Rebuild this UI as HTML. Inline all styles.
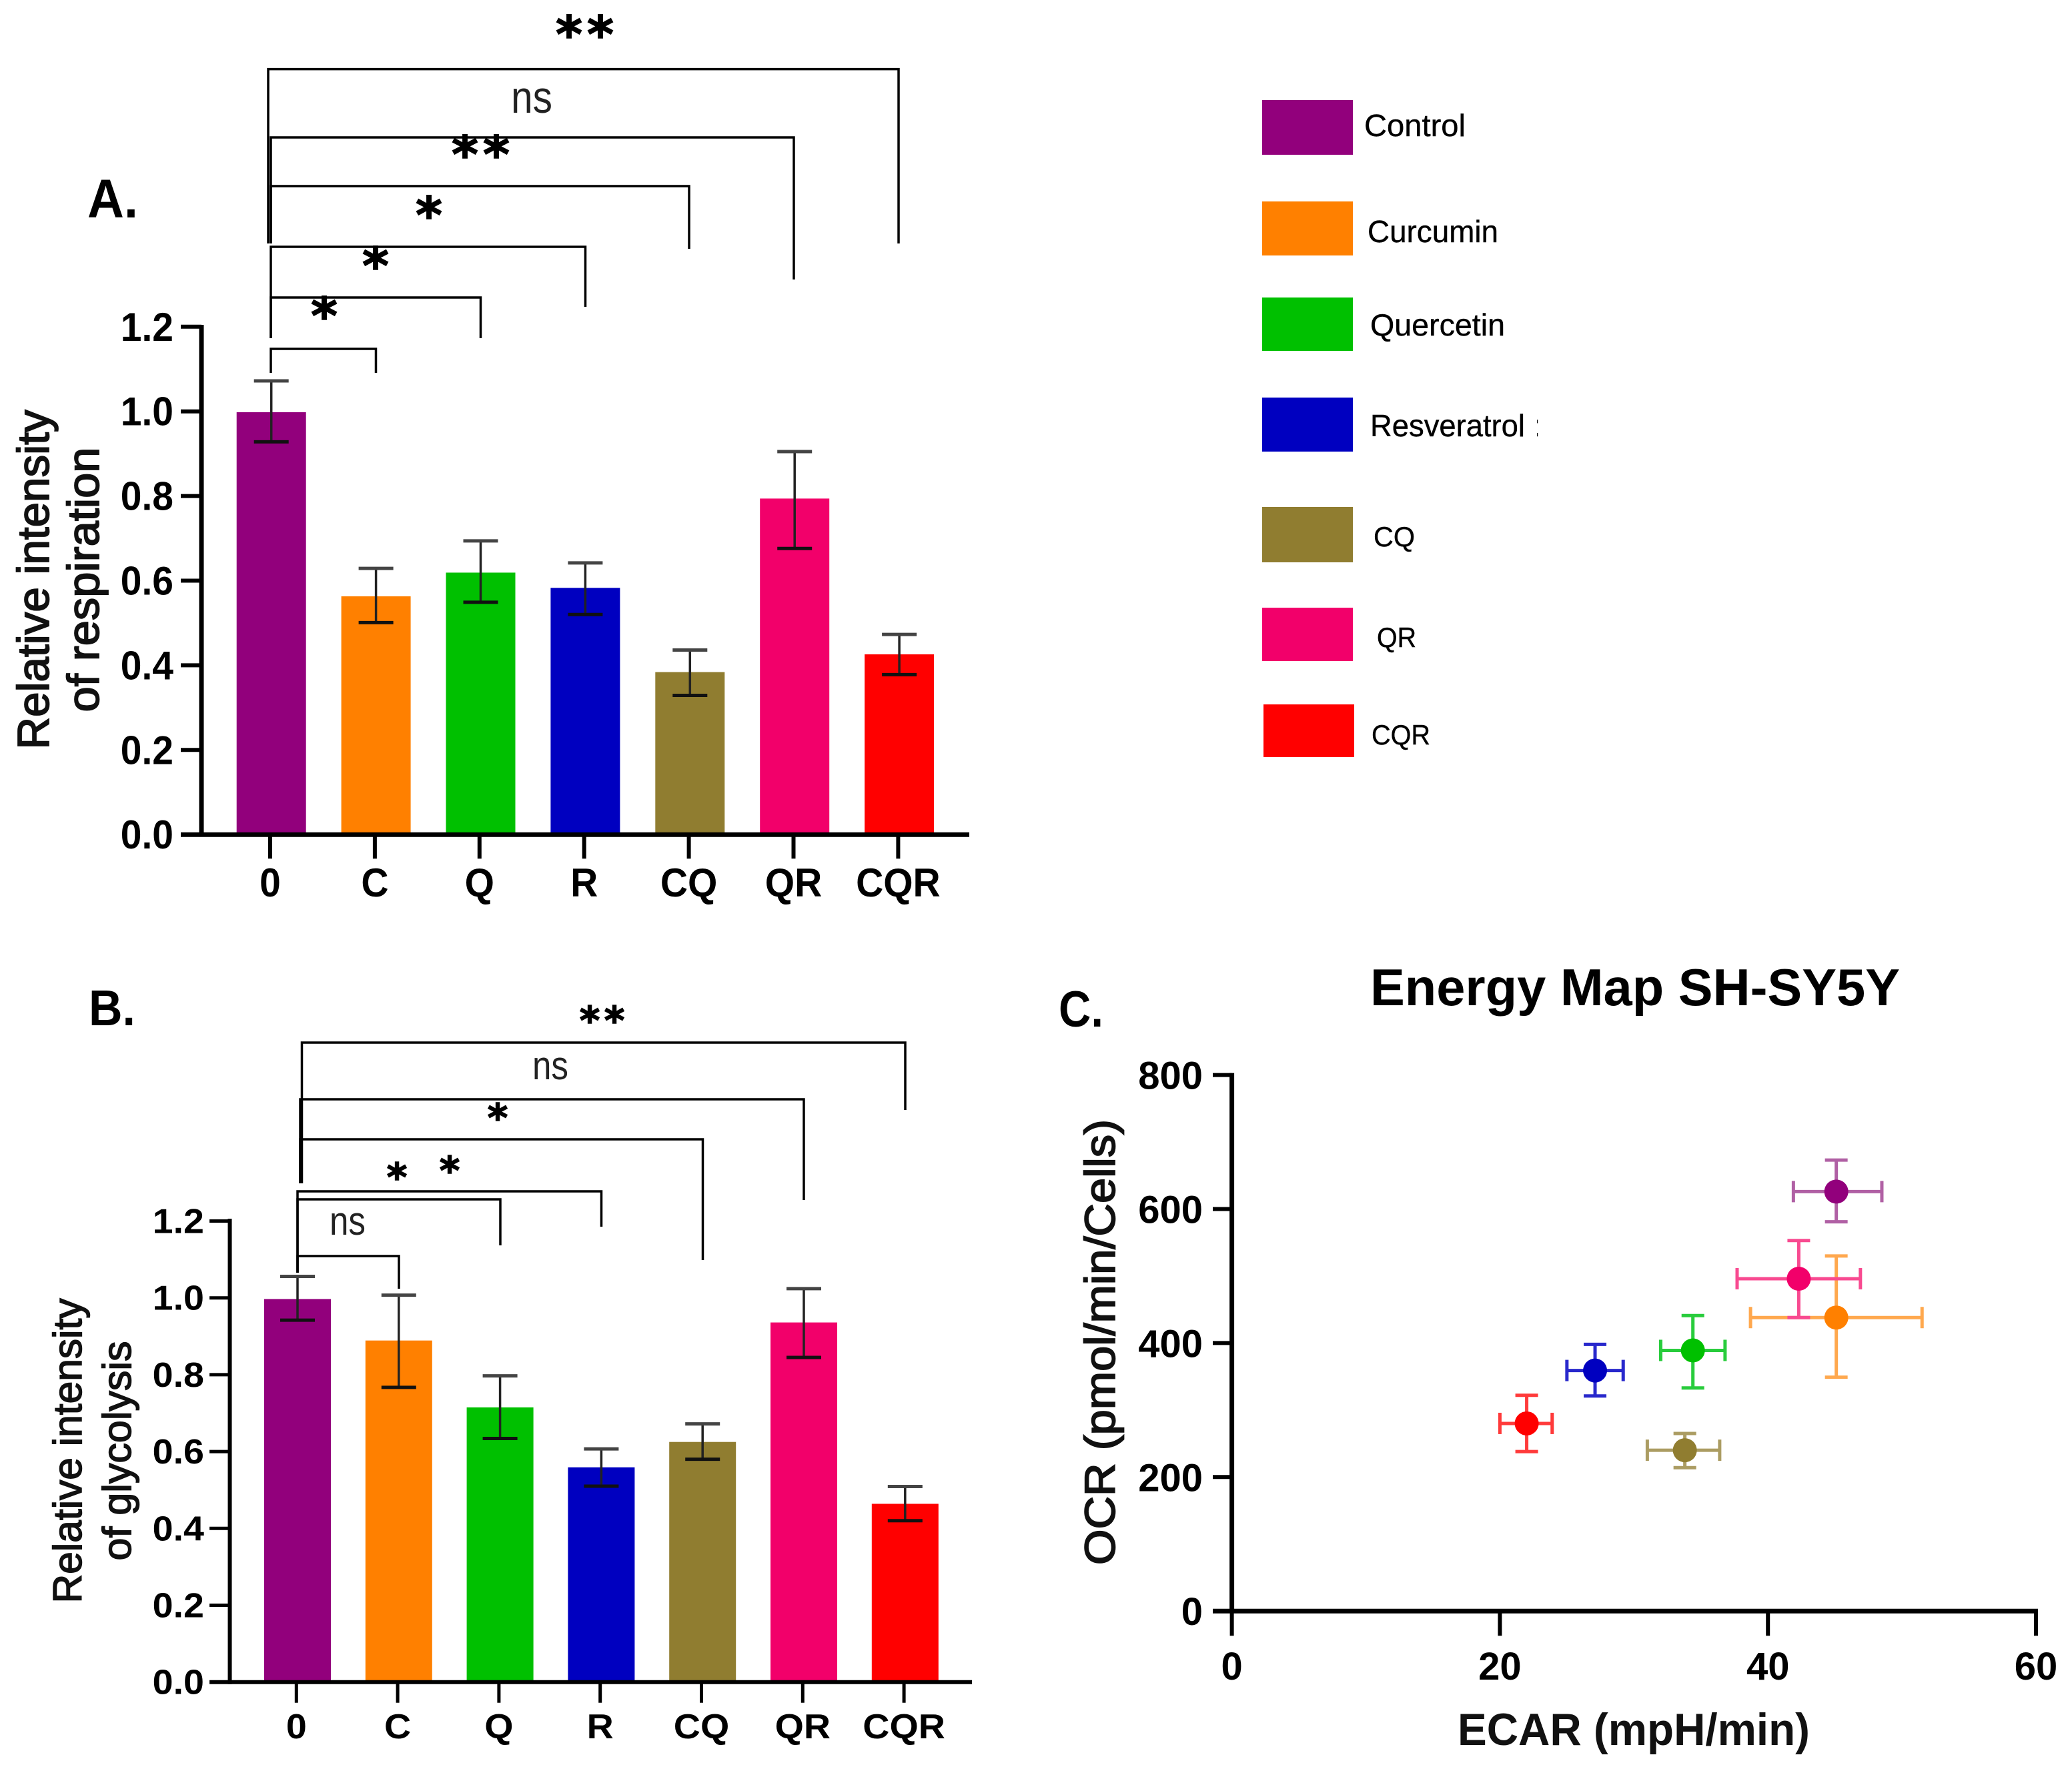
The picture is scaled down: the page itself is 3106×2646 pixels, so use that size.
<!DOCTYPE html>
<html lang="en">
<head>
<meta charset="utf-8">
<title>Respiration, glycolysis and energy map</title>
<style>
html,body{margin:0;padding:0;background:#fff;width:3106px;height:2646px;overflow:hidden}
svg{display:block;font-family:"Liberation Sans",Arial,sans-serif}
.br{fill:none;stroke:#000;stroke-width:3.5}
.lg{font-size:46px;fill:#000;stroke:#000;stroke-width:.4}
.lg2{font-size:42px;fill:#000;stroke:#000;stroke-width:.4}
.ns{font-size:68px;fill:#222;text-anchor:middle}
.ns2{font-size:60px;fill:#222;text-anchor:middle}
.st{font-family:"DejaVu Sans",sans-serif;font-weight:700;text-anchor:middle;fill:#000;stroke:#000;stroke-width:1.6}
.pl{font-weight:700;fill:#000}
</style>
</head>
<body>
<svg id="fig" xmlns="http://www.w3.org/2000/svg" width="3106" height="2646" viewBox="0 0 3106 2646">
<rect x="0" y="0" width="3106" height="2646" fill="#fff"/>

<text class="pl" x="131" y="326" font-size="82" textLength="76" lengthAdjust="spacingAndGlyphs">A.</text>
<text class="pl" x="133" y="1537" font-size="75" textLength="70" lengthAdjust="spacingAndGlyphs">B.</text>
<text class="pl" x="1587" y="1539" font-size="76" textLength="67" lengthAdjust="spacingAndGlyphs">C.</text>

<g>
<path class="br" d="M402 365V103.6H1347V365"/>
<path class="br" d="M406 365V206H1190V419"/>
<path class="br" d="M406 365V279H1033V373"/>
<path class="br" d="M406 507V370H877.5V460"/>
<path class="br" d="M406 507V446H720.5V507"/>
<path class="br" d="M406 559V523H563.5V559"/>
<text class="st" font-size="76" x="853" y="78">*</text>
<text class="st" font-size="76" x="900" y="78">*</text>
<text class="ns" x="797" y="169" textLength="62" lengthAdjust="spacingAndGlyphs">ns</text>
<text class="st" font-size="76" x="697" y="258">*</text>
<text class="st" font-size="76" x="744" y="258">*</text>
<text class="st" font-size="76" x="643" y="349">*</text>
<text class="st" font-size="76" x="563" y="425">*</text>
<text class="st" font-size="76" x="486" y="500">*</text>
</g>

<g>
<path class="br" d="M452.5 1774V1563H1357V1664"/>
<path class="br" d="M450 1774V1648H1205V1799"/>
<path class="br" d="M450 1774V1708H1053.5V1889"/>
<path class="br" d="M446 1908V1786H901.5V1839"/>
<path class="br" d="M446 1908V1798H750V1867"/>
<path class="br" d="M446 1908V1883H598V1932"/>
<text class="st" font-size="58" x="884" y="1550">*</text>
<text class="st" font-size="58" x="921" y="1550">*</text>
<text class="ns2" x="825" y="1618" textLength="54" lengthAdjust="spacingAndGlyphs">ns</text>
<text class="st" font-size="58" x="746" y="1696">*</text>
<text class="st" font-size="58" x="595" y="1785">*</text>
<text class="st" font-size="58" x="674" y="1775">*</text>
<text class="ns2" x="521" y="1851" textLength="54" lengthAdjust="spacingAndGlyphs">ns</text>
</g>

<g id="plotA"></g>
<g id="plotB"></g>
<g id="plotC"></g>

<g>
<g><rect x="1892" y="150" width="136" height="82" fill="#92007c"/><text class="lg" x="2045" y="204" textLength="152" lengthAdjust="spacingAndGlyphs">Control</text></g>
<g><rect x="1892" y="302" width="136" height="81" fill="#ff8000"/><text class="lg" x="2050" y="363" textLength="196" lengthAdjust="spacingAndGlyphs">Curcumin</text></g>
<g><rect x="1892" y="446" width="136" height="80" fill="#00c000"/><text class="lg" x="2054" y="503" textLength="202" lengthAdjust="spacingAndGlyphs">Quercetin</text></g>
<g><rect x="1892" y="596" width="136" height="81" fill="#0000c0"/><text class="lg" x="2054" y="654" textLength="232" lengthAdjust="spacingAndGlyphs">Resveratrol</text><text class="lg" x="2300" y="654" style="clip-path:inset(0 8px 0 0)">:</text></g>
<g><rect x="1892" y="760" width="136" height="83" fill="#907d30"/><text class="lg2" x="2059" y="819" textLength="62" lengthAdjust="spacingAndGlyphs">CQ</text></g>
<g><rect x="1892" y="911" width="136" height="80" fill="#f2006a"/><text class="lg2" x="2064" y="970" textLength="59" lengthAdjust="spacingAndGlyphs">QR</text></g>
<g><rect x="1894" y="1056" width="136" height="79" fill="#ff0000"/><text class="lg2" x="2056" y="1116" textLength="88" lengthAdjust="spacingAndGlyphs">CQR</text></g>
</g>
</svg>

<script>
// Shared categories and colours
const categories = ["0", "C", "Q", "R", "CQ", "QR", "CQR"];
const barColors = ["#92007c", "#ff8000", "#00c000", "#0000c0", "#907d30", "#f2006a", "#ff0000"];
const barTicks = ["0.0", "0.2", "0.4", "0.6", "0.8", "1.0", "1.2"];

// Panel A: relative intensity of respiration
const respirationMean = [0.998, 0.563, 0.619, 0.583, 0.384, 0.794, 0.426];
const respirationUpper = [1.072, 0.629, 0.694, 0.642, 0.436, 0.905, 0.473];
const respirationLower = [0.928, 0.501, 0.549, 0.520, 0.329, 0.676, 0.378];

// Panel B: relative intensity of glycolysis
const glycolysisMean = [0.997, 0.889, 0.715, 0.559, 0.625, 0.936, 0.464];
const glycolysisUpper = [1.056, 1.007, 0.797, 0.607, 0.672, 1.024, 0.509];
const glycolysisLower = [0.942, 0.767, 0.634, 0.510, 0.580, 0.845, 0.420];

// Panel C: energy map
const ecarMean = [45.1, 45.1, 34.4, 27.1, 33.8, 42.3, 22.0];
const ecarLow = [41.9, 38.7, 32.0, 25.0, 31.0, 37.7, 20.0];
const ecarHigh = [48.5, 51.5, 36.8, 29.2, 36.4, 46.9, 23.9];
const ocrMean = [626, 438, 389, 359, 240, 496, 280];
const ocrLow = [581, 349, 333, 321, 214, 438, 238];
const ocrHigh = [673, 530, 441, 398, 265, 553, 322];
const ecarTicks = [0, 20, 40, 60];
const ocrTicks = [0, 200, 400, 600, 800];

const NS = "http://www.w3.org/2000/svg";

function make(parent, tag, props, text) {
  const el = document.createElementNS(NS, tag);
  for (const k in props) el.setAttribute(k, props[k]);
  if (text !== undefined) el.textContent = text;
  parent.appendChild(el);
  return el;
}
function slug(s) { return String(s).toLowerCase().replace(/[^a-z0-9]+/g, "-"); }

function drawBars(host, prefix, cfg, mean, upper, lower) {
  const y = v => cfg.y0 - v * cfg.yScale;
  const xc = i => cfg.x0 + i * cfg.step;

  mean.forEach((v, i) => {
    const key = slug(categories[i] === "0" ? "control" : categories[i]);
    const bar = make(host, "rect", { x: xc(i) - cfg.barW / 2, y: y(v), width: cfg.barW, height: cfg.y0 - y(v), fill: barColors[i] });
    
    

    const stem = make(host, "line", { x1: xc(i), x2: xc(i), y1: y(upper[i]), y2: y(lower[i]), stroke: "#222", "stroke-width": 3.5 });
    
    

    const capU = make(host, "line", { x1: xc(i) - 26, x2: xc(i) + 26, y1: y(upper[i]), y2: y(upper[i]), stroke: "#444", "stroke-width": 5 });
    
    

    const capL = make(host, "line", { x1: xc(i) - 26, x2: xc(i) + 26, y1: y(lower[i]), y2: y(lower[i]), stroke: "#111", "stroke-width": 5 });
    
    
  });

  const yAxis = make(host, "line", { x1: cfg.axisX, x2: cfg.axisX, y1: cfg.axisTop, y2: cfg.y0 + 3, stroke: "#000", "stroke-width": cfg.axisW });
  
  

  const xAxis = make(host, "line", { x1: cfg.tickLeft, x2: cfg.xEnd, y1: cfg.y0, y2: cfg.y0, stroke: "#000", "stroke-width": cfg.baseW });
  
  

  barTicks.forEach(t => {
    const v = parseFloat(t);
    const tick = make(host, "line", { x1: cfg.tickLeft, x2: cfg.axisX, y1: y(v), y2: y(v), stroke: "#000", "stroke-width": cfg.axisW - 1 });
    
    

    const lab = make(host, "text", { transform: "translate(" + cfg.labelRight + " " + (y(v) + cfg.labelDy) + ") scale(" + cfg.sx + " 1)", "text-anchor": "end", "font-size": cfg.fs, "font-weight": 700, fill: "#000" }, t);
    
    
  });

  categories.forEach((c, i) => {
    const tx = xc(i) - cfg.tickShift;
    const tick = make(host, "line", { x1: tx, x2: tx, y1: cfg.y0, y2: cfg.y0 + cfg.tickLen, stroke: "#000", "stroke-width": cfg.axisW - 1 });
    
    

    const lab = make(host, "text", { transform: "translate(" + tx + " " + cfg.xLabelY + ") scale(" + cfg.sx + " 1)", "text-anchor": "middle", "font-size": cfg.fs, "font-weight": 700, fill: "#000" }, c);
    
    
  });
}

function rotatedText(host, s, x, cy, fs, len, sw) {
  const t = make(host, "text", {
    transform: "translate(" + x + " " + cy + ") rotate(-90)",
    "text-anchor": "middle", "font-size": fs, fill: "#111",
    stroke: "#111", "stroke-width": sw,
    textLength: len, lengthAdjust: "spacingAndGlyphs"
  }, s);
  return t;
}

// Panel A
const plotA = document.getElementById("plotA");
drawBars(plotA, "respiration", {
  y0: 1251.2, yScale: 634.5, x0: 406.7, step: 156.9, barW: 104,
  axisX: 302, axisTop: 487, axisW: 7, baseW: 7, tickLeft: 271, xEnd: 1453,
  labelRight: 260, labelDy: 21, fs: 60, sx: 0.95, tickShift: 1.7, tickLen: 36, xLabelY: 1344
}, respirationMean, respirationUpper, respirationLower);

const aTitle1 = rotatedText(plotA, "Relative intensity", 73, 869, 67, 509, 1.8);


const aTitle2 = rotatedText(plotA, "of respiration", 148, 869, 67, 397, 1.8);



// Panel B
const plotB = document.getElementById("plotB");
drawBars(plotB, "glycolysis", {
  y0: 2521.7, yScale: 576, x0: 446, step: 151.8, barW: 100,
  axisX: 344.5, axisTop: 1827, axisW: 6, baseW: 6, tickLeft: 314, xEnd: 1457,
  labelRight: 306, labelDy: 18, fs: 52, sx: 1.07, tickShift: 1.7, tickLen: 31, xLabelY: 2606
}, glycolysisMean, glycolysisUpper, glycolysisLower);

const bTitle1 = rotatedText(plotB, "Relative intensity", 122, 2175, 60, 457, 1.5);


const bTitle2 = rotatedText(plotB, "of glycolysis", 196, 2175, 60, 329, 1.5);



// Panel C
const plotC = document.getElementById("plotC");
const cx = v => 1846.6 + v * 20.09;
const cy = v => 2415.2 - v * 1.0045;
const tint = ["#b060a4", "#ffa84e", "#28cc3c", "#2828cc", "#ab9c62", "#f84a90", "#ff3a3a"];
const names = ["control", "curcumin", "quercetin", "resveratrol", "cq", "qr", "cqr"];

ecarMean.forEach((v, i) => {
  const hs = make(plotC, "line", { x1: cx(ecarLow[i]), x2: cx(ecarHigh[i]), y1: cy(ocrMean[i]), y2: cy(ocrMean[i]), stroke: tint[i], "stroke-width": 5 });
  
  

  [ecarLow[i], ecarHigh[i]].forEach(e => {
    const cap = make(plotC, "line", { x1: cx(e), x2: cx(e), y1: cy(ocrMean[i]) - 16, y2: cy(ocrMean[i]) + 16, stroke: tint[i], "stroke-width": 5 });
    
    
  });

  const vs = make(plotC, "line", { x1: cx(v), x2: cx(v), y1: cy(ocrLow[i]), y2: cy(ocrHigh[i]), stroke: tint[i], "stroke-width": 5 });
  
  

  [ocrLow[i], ocrHigh[i]].forEach(o => {
    const cap = make(plotC, "line", { x1: cx(v) - 17, x2: cx(v) + 17, y1: cy(o), y2: cy(o), stroke: tint[i], "stroke-width": 5 });
    
    
  });

  const pt = make(plotC, "ellipse", { cx: cx(v), cy: cy(ocrMean[i]), rx: 18, ry: 18, fill: barColors[i] });
  
  
});

const cyAxis = make(plotC, "line", { x1: cx(0), x2: cx(0), y1: cy(800) - 3, y2: cy(0) + 3, stroke: "#000", "stroke-width": 7 });


const cxAxis = make(plotC, "line", { x1: 1818, x2: cx(60) + 3, y1: cy(0), y2: cy(0), stroke: "#000", "stroke-width": 7 });



ocrTicks.forEach(t => {
  const tick = make(plotC, "line", { x1: 1818, x2: cx(0), y1: cy(t), y2: cy(t), stroke: "#000", "stroke-width": 6 });
  
  
  const lab = make(plotC, "text", { x: 1803, y: cy(t) + 21, "text-anchor": "end", "font-size": 58, "font-weight": 700, fill: "#000" }, t);
  
  
});
ecarTicks.forEach(t => {
  const tick = make(plotC, "line", { x1: cx(t), x2: cx(t), y1: cy(0), y2: cy(0) + 37, stroke: "#000", "stroke-width": 6 });
  
  
  const lab = make(plotC, "text", { x: cx(t), y: 2518, "text-anchor": "middle", "font-size": 58, "font-weight": 700, fill: "#000" }, t);
  
  
});

const cTitle = make(plotC, "text", { x: 2054, y: 1507, "font-size": 78, "font-weight": 700, fill: "#000", textLength: 794, lengthAdjust: "spacingAndGlyphs" }, "Energy Map SH-SY5Y");


const cXTitle = make(plotC, "text", { x: 2185, y: 2616, "font-size": 68, "font-weight": 700, fill: "#111", textLength: 528, lengthAdjust: "spacingAndGlyphs" }, "ECAR (mpH/min)");


const cYTitle = rotatedText(plotC, "OCR (pmol/min/Cells)", 1671, 2012, 64, 668, 1.8);


</script>
</body>
</html>
